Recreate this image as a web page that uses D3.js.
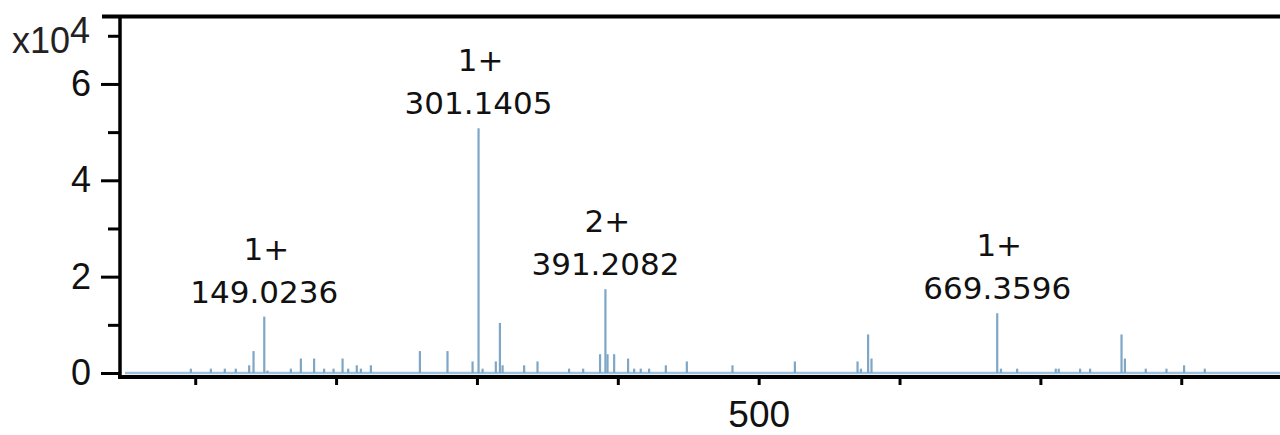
<!DOCTYPE html>
<html>
<head>
<meta charset="utf-8">
<script src="https://cdn.jsdelivr.net/npm/d3@7"></script>
<style>
html,body{margin:0;padding:0;background:#fff;}
svg{display:block;}
</style>
</head>
<body>
<svg id="chart" width="1280" height="435"></svg>
<script>
// m/z of every stick in the spectrum
const mzValues = [96.9,111.1,121.0,128.8,138.3,141.4,149.0236,151.3,167.9,175.0,184.4,191.5,198.2,204.6,208.6,214.7,217.6,224.7,
  259.5,279.1,296.9,301.1405,304.0,313.4,316.3,318.2,333.5,343.0,365.4,375.4,387.4,391.2082,392.7,397.4,407.3,411.6,416.3,422.2,434.1,449.0,
  481.4,525.7,570.2,572.6,577.7,580.1,669.3596,672.0,683.5,710.9,713.0,728.2,735.3,757.6,760.0,774.8,789.5,802.0,816.7];
// intensities in units of 10^4 counts
const intensities = [0.09,0.09,0.09,0.09,0.16,0.455,1.17,0.05,0.09,0.30,0.30,0.09,0.09,0.30,0.09,0.16,0.09,0.16,
  0.455,0.455,0.24,5.08,0.09,0.24,1.04,0.16,0.16,0.24,0.09,0.09,0.39,1.74,0.39,0.39,0.30,0.09,0.09,0.09,0.16,0.24,
  0.16,0.24,0.24,0.09,0.80,0.30,1.24,0.09,0.09,0.09,0.09,0.09,0.09,0.80,0.30,0.09,0.09,0.16,0.09];
// annotated peaks
const labelMz = [149.0236,301.1405,391.2082,669.3596];
const labelCharge = ["1+","1+","2+","1+"];
const labelText = ["149.0236","301.1405","391.2082","669.3596"];
// axis ticks
const xTicks = [100,200,300,400,500,600,700,800];
const xTickLabels = ["","","","","500","","",""];
const yMajorTicks = [0,2,4,6];
const yMinorTicks = [1,3,5,7];
const xDomain = [46.6, 870.1];
const yDomain = [0, 7.4];

const svg = d3.select("#chart");
const x = d3.scaleLinear().domain(xDomain).range([120, 1280]);
const y = d3.scaleLinear().domain(yDomain).range([373, 16.5]);

const axisFont = "'Liberation Sans', Arial, sans-serif";
const labelFont = "'DejaVu Sans', sans-serif";
const stickColor = "#7ea6c6";

// baseline of the spectrum
svg.append("line")
  .attr("x1", x(xDomain[0]) + 5).attr("x2", x(xDomain[1]))
  .attr("y1", y(0)).attr("y2", y(0))
  .attr("stroke", "#9fc0da").attr("stroke-width", 2.5);

// sticks
const peaks = mzValues.map((m, i) => ({mz: m, v: intensities[i]}));
svg.append("g").selectAll("line").data(peaks).join("line")
  .attr("x1", d => x(d.mz)).attr("x2", d => x(d.mz))
  .attr("y1", y(0)).attr("y2", d => y(d.v))
  .attr("stroke", stickColor).attr("stroke-width", 2.2);

// Axes
const xAxis = d3.axisBottom(x).tickValues(xTicks)
  .tickFormat((d, i) => xTickLabels[i]).tickSize(8).tickPadding(16);
const gx = svg.append("g").attr("transform", `translate(0,${y(0) + 4})`).call(xAxis);
gx.select(".domain").remove();
gx.selectAll(".tick line").attr("stroke", "#000").attr("stroke-width", 3);
gx.selectAll(".tick text").attr("font-family", axisFont).attr("font-size", 37).attr("fill", "#111");
gx.append("line").attr("x1", 118).attr("x2", 1280).attr("y1", 0).attr("y2", 0)
  .attr("stroke", "#000").attr("stroke-width", 4);

const yAxis = d3.axisLeft(y).tickValues(yMajorTicks).tickFormat(d3.format("d"))
  .tickSize(18).tickPadding(10);
const gy = svg.append("g").attr("transform", "translate(119,0)").call(yAxis);
gy.select(".domain").remove();
gy.selectAll(".tick line").attr("stroke", "#000").attr("stroke-width", 3);
gy.selectAll(".tick text").attr("font-family", axisFont).attr("font-size", 36).attr("fill", "#111");

const yAxisMinor = d3.axisLeft(y).tickValues(yMinorTicks).tickFormat("").tickSize(11);
const gym = svg.append("g").attr("transform", "translate(119,0)").call(yAxisMinor);
gym.select(".domain").remove();
gym.selectAll(".tick line").attr("stroke", "#000").attr("stroke-width", 3);

// left axis line and top frame
svg.append("line").attr("x1", 120).attr("x2", 120)
  .attr("y1", y(yDomain[1])).attr("y2", y(0) + 6)
  .attr("stroke", "#000").attr("stroke-width", 3.5);
svg.append("line").attr("x1", 102).attr("x2", 1280)
  .attr("y1", y(yDomain[1])).attr("y2", y(yDomain[1]))
  .attr("stroke", "#000").attr("stroke-width", 4);

// exponent label
const expo = svg.append("text").attr("x", 12).attr("y", 53)
  .attr("font-family", axisFont).attr("font-size", 36).attr("fill", "#222");
expo.append("tspan").text("x10");
expo.append("tspan").attr("dy", -10).text("4");

// peak annotations
const ann = labelMz.map((m, i) => ({mz: m, charge: labelCharge[i], text: labelText[i],
  v: intensities[mzValues.indexOf(m)]}));
const ga = svg.append("g").selectAll("g").data(ann).join("g");
ga.append("text")
  .attr("x", d => x(d.mz)).attr("y", d => y(d.v) - 14)
  .attr("text-anchor", "middle").attr("font-family", labelFont).attr("font-size", 31)
  .attr("fill", "#111").text(d => d.text);
ga.append("text")
  .attr("x", d => x(d.mz) + 2).attr("y", d => y(d.v) - 57)
  .attr("text-anchor", "middle").attr("font-family", labelFont).attr("font-size", 31)
  .attr("fill", "#111").text(d => d.charge);
</script>
</body>
</html>
